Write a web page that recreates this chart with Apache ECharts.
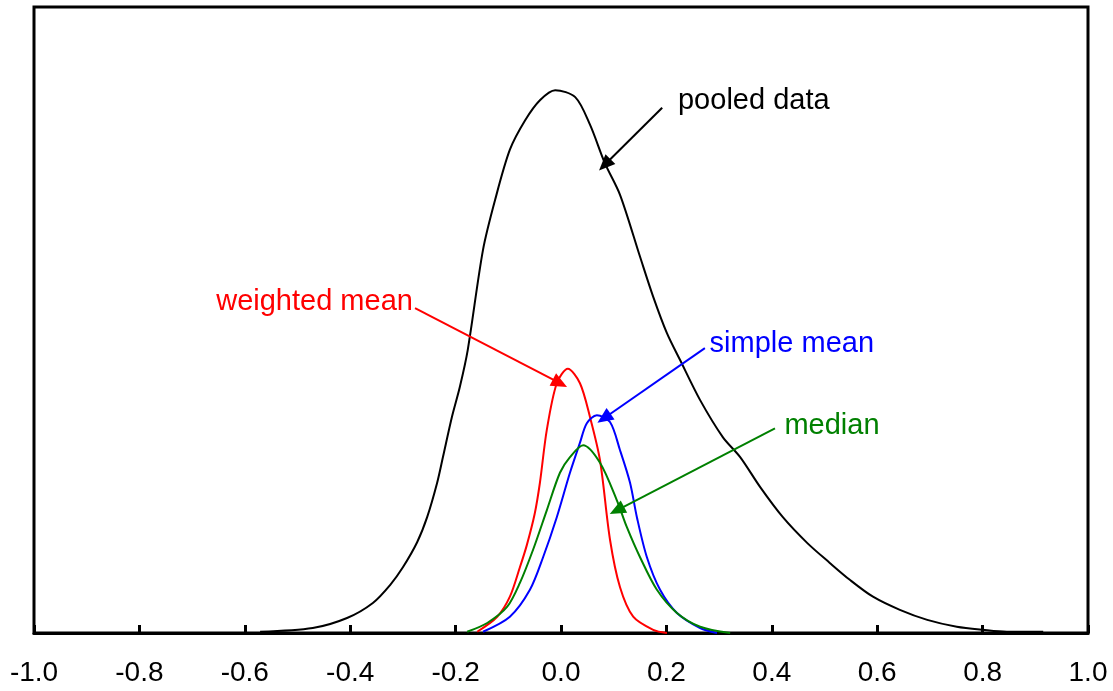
<!DOCTYPE html>
<html>
<head>
<meta charset="utf-8">
<script src="https://cdn.jsdelivr.net/npm/echarts@6/dist/echarts.min.js"></script>
<style>html,body{margin:0;padding:0;background:#fff;}#c{width:1113px;height:691px;}</style>
</head>
<body>
<div id="c"></div>
<script>
const xTicks = [-1.0, -0.8, -0.6, -0.4, -0.2, 0.0, 0.2, 0.4, 0.6, 0.8, 1.0];

const pooledX = [-0.571,-0.471,-0.406,-0.357,-0.324,-0.300,-0.273,-0.254,-0.235,-0.224,-0.207,-0.192,-0.177,-0.148,-0.125,-0.097,-0.068,-0.040,-0.011,0.027,0.055,0.083,0.112,0.150,0.175,0.201,0.226,0.264,0.307,0.340,0.378,0.421,0.467,0.510,0.548,0.592,0.643,0.695,0.751,0.801,0.846,0.915];
const pooledY = [0.002,0.008,0.024,0.048,0.077,0.105,0.145,0.185,0.240,0.281,0.345,0.393,0.452,0.612,0.692,0.772,0.819,0.851,0.867,0.856,0.812,0.751,0.700,0.601,0.537,0.479,0.436,0.372,0.313,0.281,0.233,0.185,0.144,0.112,0.085,0.058,0.037,0.021,0.010,0.005,0.002,0.002];

const weightedX = [-0.159,-0.121,-0.097,-0.078,-0.065,-0.050,-0.040,-0.027,-0.008,0.013,0.036,0.055,0.074,0.093,0.112,0.137,0.175,0.201];
const weightedY = [0.002,0.026,0.058,0.105,0.140,0.190,0.240,0.324,0.399,0.422,0.399,0.345,0.276,0.149,0.073,0.026,0.005,0.000];

const simpleX = [-0.148,-0.097,-0.059,-0.034,-0.008,0.017,0.036,0.049,0.068,0.093,0.112,0.131,0.144,0.163,0.188,0.220,0.264,0.296];
const simpleY = [0.002,0.026,0.069,0.121,0.185,0.256,0.304,0.335,0.348,0.337,0.292,0.240,0.185,0.121,0.069,0.032,0.008,0.000];

const medianX = [-0.178,-0.140,-0.102,-0.078,-0.053,-0.027,-0.002,0.017,0.042,0.074,0.106,0.125,0.150,0.182,0.220,0.264,0.321];
const medianY = [0.002,0.016,0.042,0.080,0.133,0.196,0.256,0.281,0.300,0.272,0.212,0.169,0.121,0.069,0.032,0.010,0.000];

// annotations
const annLabels = ['pooled data', 'weighted mean', 'simple mean', 'median'];
const annColors = ['#000000', '#ff0000', '#0000ff', '#008000'];
const annTextPos = [[0.222, 0.850], [-0.281, 0.529], [0.282, 0.461], [0.424, 0.330]];
const annAlign = ['left', 'right', 'left', 'left'];
const annFrom = [[0.192, 0.839], [-0.277, 0.519], [0.273, 0.455], [0.406, 0.327]];
const annTo = [[0.083, 0.748], [-0.002, 0.399], [0.0816, 0.343], [0.106, 0.196]];

function pairs(xs, ys) { return xs.map((x, i) => [x, ys[i]]); }

const FONT = '"Liberation Sans", Arial, sans-serif';

const seriesDefs = [
  { name: 'pooled data', x: pooledX, y: pooledY, color: '#000000' },
  { name: 'weighted mean', x: weightedX, y: weightedY, color: '#ff0000' },
  { name: 'simple mean', x: simpleX, y: simpleY, color: '#0000ff' },
  { name: 'median', x: medianX, y: medianY, color: '#008000' }
];

const chart = echarts.init(document.getElementById('c'), null, { renderer: 'canvas' });

const series = seriesDefs.map((s, i) => ({
  type: 'line',
  name: s.name,
  data: pairs(s.x, s.y),
  showSymbol: false,
  smooth: 0.3,
  lineStyle: { color: s.color, width: 2 },
  itemStyle: { color: s.color },
  z: 3,
  animation: false,
  markLine: {
    silent: true,
    animation: false,
    symbol: ['none', 'triangle'],
    symbolSize: [14, 16],
    lineStyle: { color: s.color, width: 2, type: 'solid' },
    label: { show: false },
    data: [[{ coord: annFrom[i] }, { coord: annTo[i] }]]
  }
}));

chart.setOption({
  animation: false,
  backgroundColor: '#ffffff',
  grid: { left: 34, right: 25, top: 7, bottom: 58, show: true, borderColor: '#000', borderWidth: 3, backgroundColor: 'transparent' },
  xAxis: {
    type: 'value', min: -1.0, max: 1.0, interval: 0.2,
    axisLine: { show: true, lineStyle: { color: '#000', width: 3 } },
    axisTick: { show: true, inside: true, length: 8, lineStyle: { color: '#000', width: 3 } },
    axisLabel: { color: '#000', fontSize: 28, fontFamily: FONT, margin: 26, formatter: v => v.toFixed(1) },
    splitLine: { show: false }
  },
  yAxis: {
    type: 'value', min: 0, max: 1,
    axisLine: { show: false }, axisTick: { show: false }, axisLabel: { show: false }, splitLine: { show: false }
  },
  series: series
});

const graphics = annLabels.map((t, i) => {
  const p = chart.convertToPixel({ gridIndex: 0 }, annTextPos[i]);
  return {
    type: 'text', x: p[0], y: p[1], z: 10,
    style: { text: t, fill: annColors[i], font: '29px ' + FONT, textAlign: annAlign[i], textVerticalAlign: 'middle' }
  };
});
chart.setOption({ graphic: graphics });
</script>
</body>
</html>
